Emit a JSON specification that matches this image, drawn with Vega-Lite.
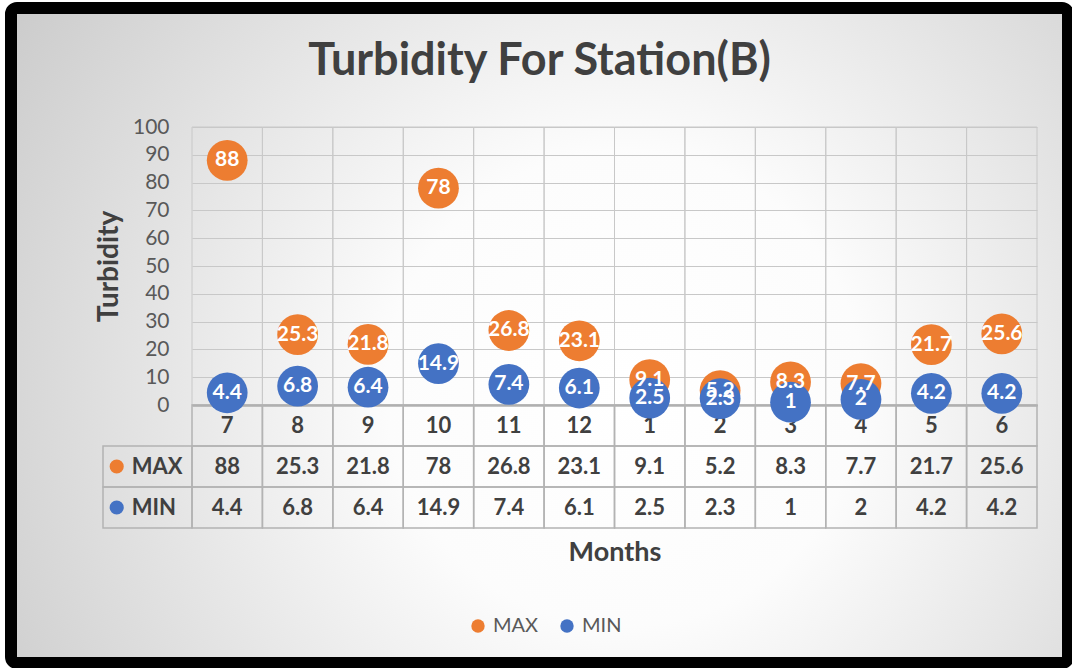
{
  "$schema": "https://vega.github.io/schema/vega-lite/v6.json",
  "width": 1057,
  "height": 655,
  "autosize": {"type": "none"},
  "padding": {"left": 11, "top": 8, "right": 4, "bottom": 5},
  "background": "#ffffff",
  "config": {
    "font": "Lato",
    "view": {
      "stroke": "#000000",
      "strokeWidth": 12,
      "cornerRadius": 6,
      "fill": {
        "gradient": "radial",
        "x1": 0.58, "y1": 0.55, "r1": 0,
        "x2": 0.58, "y2": 0.55, "r2": 0.75,
        "stops": [
          {"offset": 0, "color": "#ffffff"},
          {"offset": 0.3, "color": "#fcfcfc"},
          {"offset": 1, "color": "#c4c4c4"}
        ]
      }
    }
  },
  "title": {
    "text": "Turbidity For Station(B)",
    "font": "Lato",
    "fontSize": 45,
    "fontWeight": "bold",
    "color": "#404040",
    "anchor": "middle",
    "offset": -76
  },
  "datasets": {
    "d": [
      {"month": "7", "series": "MAX", "value": 88},
      {"month": "8", "series": "MAX", "value": 25.3},
      {"month": "9", "series": "MAX", "value": 21.8},
      {"month": "10", "series": "MAX", "value": 78},
      {"month": "11", "series": "MAX", "value": 26.8},
      {"month": "12", "series": "MAX", "value": 23.1},
      {"month": "1", "series": "MAX", "value": 9.1},
      {"month": "2", "series": "MAX", "value": 5.2},
      {"month": "3", "series": "MAX", "value": 8.3},
      {"month": "4", "series": "MAX", "value": 7.7},
      {"month": "5", "series": "MAX", "value": 21.7},
      {"month": "6", "series": "MAX", "value": 25.6},
      {"month": "7", "series": "MIN", "value": 4.4},
      {"month": "8", "series": "MIN", "value": 6.8},
      {"month": "9", "series": "MIN", "value": 6.4},
      {"month": "10", "series": "MIN", "value": 14.9},
      {"month": "11", "series": "MIN", "value": 7.4},
      {"month": "12", "series": "MIN", "value": 6.1},
      {"month": "1", "series": "MIN", "value": 2.5},
      {"month": "2", "series": "MIN", "value": 2.3},
      {"month": "3", "series": "MIN", "value": 1},
      {"month": "4", "series": "MIN", "value": 2},
      {"month": "5", "series": "MIN", "value": 4.2},
      {"month": "6", "series": "MIN", "value": 4.2}
    ]
  },
  "data": {"name": "d"},
  "resolve": {"scale": {"x": "independent", "y": "independent"}},
  "layer": [
    {
      "transform": [{"filter": "datum.series == 'MAX'"}],
      "mark": {"type": "rect", "fill": null, "stroke": "#c8c8c8", "strokeWidth": 1},
      "encoding": {
        "x": {"field": "month", "type": "ordinal", "axis": null,
              "scale": {"type": "band", "domain": ["7","8","9","10","11","12","1","2","3","4","5","6"], "range": [181, 1026], "paddingInner": 0, "paddingOuter": 0}},
        "y": {"datum": 0, "type": "quantitative", "axis": null,
              "scale": {"domain": [0, 100], "range": [397, 119], "nice": false, "zero": true}},
        "y2": {"datum": 100}
      }
    },
    {
      "mark": {"type": "rect", "fill": null, "stroke": "#b3b3b3", "strokeWidth": 1.5},
      "encoding": {
        "x": {"field": "month", "type": "ordinal", "axis": null,
              "scale": {"type": "band", "domain": ["7","8","9","10","11","12","1","2","3","4","5","6"], "range": [181, 1026], "paddingInner": 0, "paddingOuter": 0}},
        "y": {"field": "series", "type": "nominal", "axis": null,
              "scale": {"type": "band", "domain": ["tick","MAX","MIN"], "range": [397, 520], "paddingInner": 0, "paddingOuter": 0}}
      }
    },
    {
      "transform": [{"filter": "datum.series == 'MAX'"}],
      "mark": {"type": "rect", "fill": null, "stroke": "#b3b3b3", "strokeWidth": 1.5},
      "encoding": {
        "x": {"field": "month", "type": "ordinal", "axis": null,
              "scale": {"type": "band", "domain": ["7","8","9","10","11","12","1","2","3","4","5","6"], "range": [181, 1026], "paddingInner": 0, "paddingOuter": 0}},
        "y": {"datum": "tick", "type": "nominal", "axis": null,
              "scale": {"type": "band", "domain": ["tick","MAX","MIN"], "range": [397, 520], "paddingInner": 0, "paddingOuter": 0}}
      }
    },
    {
      "transform": [{"filter": "datum.month == '7'"}],
      "mark": {"type": "rect", "fill": null, "stroke": "#b3b3b3", "strokeWidth": 1.5},
      "encoding": {
        "x": {"datum": "L", "type": "nominal", "axis": null,
              "scale": {"type": "band", "domain": ["L"], "range": [92, 181], "paddingInner": 0, "paddingOuter": 0}},
        "y": {"field": "series", "type": "nominal", "axis": null,
              "scale": {"type": "band", "domain": ["tick","MAX","MIN"], "range": [397, 520], "paddingInner": 0, "paddingOuter": 0}}
      }
    },
    {
      "mark": {"type": "circle", "size": 1662, "opacity": 1},
      "encoding": {
        "x": {"field": "month", "type": "ordinal",
              "scale": {"type": "band", "domain": ["7","8","9","10","11","12","1","2","3","4","5","6"], "range": [181, 1026], "paddingInner": 0, "paddingOuter": 0},
              "axis": {"orient": "bottom", "offset": -258, "title": "Months", "titleFont": "Lato", "titleFontSize": 27, "titleFontWeight": "bold", "titleColor": "#404040", "titlePadding": 103,
                       "labelFont": "Lato", "labelFontSize": 22, "labelFontWeight": "bold", "labelColor": "#404040", "labelPadding": 10, "labelAngle": 0,
                       "ticks": false, "domain": true, "domainColor": "#8c8c8c", "domainWidth": 2,
                       "grid": false}},
        "y": {"field": "value", "type": "quantitative",
              "scale": {"domain": [0, 100], "range": [397, 119], "nice": false, "zero": true},
              "axis": {"orient": "left", "offset": -181, "title": "Turbidity", "titleFont": "Lato", "titleFontSize": 28, "titleFontWeight": "bold", "titleColor": "#404040", "titlePadding": 9,
                       "labelFont": "Lato", "labelFontSize": 21, "labelColor": "#595959", "labelPadding": 23,
                       "values": [0,10,20,30,40,50,60,70,80,90,100],
                       "ticks": false, "domain": false, "grid": true, "gridColor": "#c8c8c8", "gridWidth": 1}},
        "color": {"field": "series", "type": "nominal",
                  "scale": {"domain": ["MAX","MIN"], "range": ["#ED7D31","#4472C4"]},
                  "legend": {"orient": "none", "legendX": 457, "legendY": 608, "direction": "horizontal", "title": null,
                             "labelFont": "Lato", "labelFontSize": 20, "labelColor": "#595959", "symbolType": "circle", "symbolSize": 180, "symbolOpacity": 1, "columnPadding": 18, "labelOffset": 5}},
        "order": {"field": "series", "sort": "ascending"}
      }
    },
    {
      "mark": {"type": "text", "font": "Lato", "fontSize": 21, "fontWeight": "bold", "color": "#ffffff", "baseline": "middle", "align": "center"},
      "encoding": {
        "x": {"field": "month", "type": "ordinal", "axis": null,
              "scale": {"type": "band", "domain": ["7","8","9","10","11","12","1","2","3","4","5","6"], "range": [181, 1026], "paddingInner": 0, "paddingOuter": 0}},
        "y": {"field": "value", "type": "quantitative", "axis": null,
              "scale": {"domain": [0, 100], "range": [397, 119], "nice": false, "zero": true}},
        "text": {"field": "value", "type": "nominal"}
      }
    },
    {
      "mark": {"type": "text", "font": "Lato", "fontSize": 22, "fontWeight": "bold", "color": "#404040", "baseline": "middle", "align": "center"},
      "encoding": {
        "x": {"field": "month", "type": "ordinal", "axis": null,
              "scale": {"type": "band", "domain": ["7","8","9","10","11","12","1","2","3","4","5","6"], "range": [181, 1026], "paddingInner": 0, "paddingOuter": 0}},
        "y": {"field": "series", "type": "nominal", "axis": null,
              "scale": {"type": "band", "domain": ["tick","MAX","MIN"], "range": [397, 520], "paddingInner": 0, "paddingOuter": 0}},
        "text": {"field": "value", "type": "nominal"}
      }
    },
    {
      "transform": [{"filter": "datum.month == '7'"}],
      "mark": {"type": "circle", "size": 200, "opacity": 1},
      "encoding": {
        "x": {"datum": "L", "type": "nominal", "axis": null, "bandPosition": 0.154,
              "scale": {"type": "band", "domain": ["L"], "range": [92, 181], "paddingInner": 0, "paddingOuter": 0}},
        "y": {"field": "series", "type": "nominal", "axis": null,
              "scale": {"type": "band", "domain": ["tick","MAX","MIN"], "range": [397, 520], "paddingInner": 0, "paddingOuter": 0}},
        "color": {"field": "series", "type": "nominal"}
      }
    },
    {
      "transform": [{"filter": "datum.month == '7'"}],
      "mark": {"type": "text", "font": "Lato", "fontSize": 22, "fontWeight": "bold", "color": "#404040", "baseline": "middle", "align": "left"},
      "encoding": {
        "x": {"datum": "L", "type": "nominal", "axis": null, "bandPosition": 0.322,
              "scale": {"type": "band", "domain": ["L"], "range": [92, 181], "paddingInner": 0, "paddingOuter": 0}},
        "y": {"field": "series", "type": "nominal", "axis": null,
              "scale": {"type": "band", "domain": ["tick","MAX","MIN"], "range": [397, 520], "paddingInner": 0, "paddingOuter": 0}},
        "text": {"field": "series", "type": "nominal"}
      }
    }
  ]
}
